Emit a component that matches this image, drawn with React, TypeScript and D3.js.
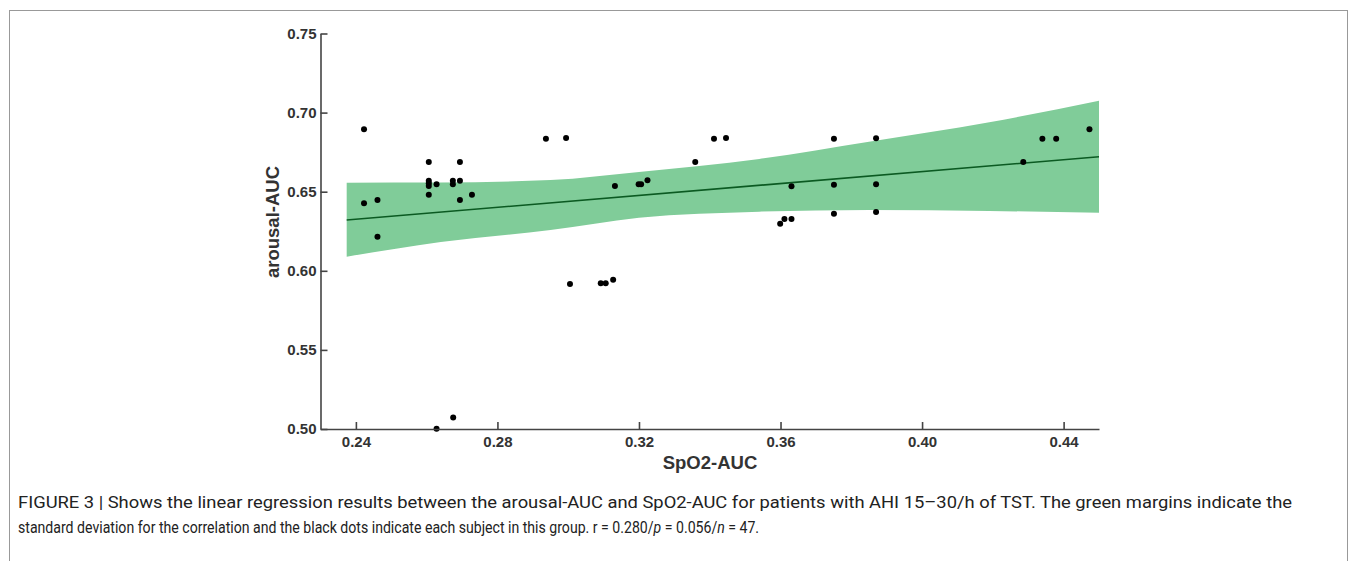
import React, { useEffect, useRef } from "react";
import * as d3 from "d3";

// subjects (SpO2-AUC, arousal-AUC)
const spo2Auc = [
  0.2423, 0.2423, 0.2461, 0.2461, 0.2606, 0.2606, 0.2606, 0.2606, 0.2606, 0.2628,
  0.2674, 0.2674, 0.2694, 0.2694, 0.2694, 0.2728, 0.2937, 0.2994, 0.3005, 0.3092,
  0.3106, 0.3127, 0.3132, 0.3199, 0.3206, 0.3224, 0.3359, 0.3412, 0.3446, 0.3599,
  0.3611, 0.3631, 0.3631, 0.3751, 0.3751, 0.3751, 0.387, 0.387, 0.387, 0.4286,
  0.434, 0.4379, 0.4473, 0.2628, 0.2675,
];
const arousalAuc = [
  0.6895, 0.6427, 0.6448, 0.6216, 0.6688, 0.657, 0.6553, 0.6536, 0.648, 0.6547,
  0.657, 0.6547, 0.6688, 0.657, 0.6448, 0.648, 0.6835, 0.684, 0.5917, 0.5921,
  0.5921, 0.5944, 0.6536, 0.6547, 0.6547, 0.6572, 0.6688, 0.6835, 0.684, 0.6298,
  0.6328, 0.6328, 0.6534, 0.6835, 0.6544, 0.6361, 0.6838, 0.6547, 0.6372, 0.6688,
  0.6835, 0.6835, 0.6894, 0.5002, 0.5072,
];

// regression line end points
const fitX = [0.2374, 0.45];
const fitY = [0.6321, 0.6721];

// green margin edges
const bandX = [0.2374, 0.264, 0.295, 0.32, 0.354, 0.385, 0.419, 0.45];
const bandUpper = [0.6557, 0.6558, 0.6574, 0.6625, 0.6707, 0.6816, 0.6939, 0.7075];
const bandLower = [0.6089, 0.6182, 0.6258, 0.6336, 0.6374, 0.6385, 0.6378, 0.6367];

const xTicks = [0.24, 0.28, 0.32, 0.36, 0.4, 0.44];
const yTicks = [0.5, 0.55, 0.6, 0.65, 0.7, 0.75];

const captionLine1 =
  "FIGURE 3 | Shows the linear regression results between the arousal-AUC and SpO2-AUC for patients with AHI 15\u201330/h of TST. The green margins indicate the";
const captionLine2 =
  "standard deviation for the correlation and the black dots indicate each subject in this group. r = 0.280/";

const W = 1356;
const H = 561;
const left = 320.5;
const right = 1099;
const top = 33.5;
const bottom = 429;
const font = "Arial, 'Liberation Sans', sans-serif";
const capScale = 0.83; // caption face is narrower than Roboto

export default function App() {
  const xAxisRef = useRef<SVGGElement>(null);
  const yAxisRef = useRef<SVGGElement>(null);

  const x = d3.scaleLinear().domain([0.23, 0.45]).range([left, right]);
  const y = d3.scaleLinear().domain([0.5, 0.75]).range([bottom, top]);

  const band = d3
    .area<number>()
    .x((d, i) => x(bandX[i]))
    .y0((d, i) => y(bandLower[i]))
    .y1((d, i) => y(bandUpper[i]))
    .curve(d3.curveMonotoneX);

  const fit = d3
    .line<number>()
    .x((d) => x(d))
    .y((d, i) => y(fitY[i]));

  useEffect(() => {
    const xa = d3
      .axisBottom(x)
      .tickValues(xTicks)
      .tickFormat(d3.format(".2f"))
      .tickSizeInner(-7)
      .tickSizeOuter(0)
      .tickPadding(7);
    const ya = d3
      .axisLeft(y)
      .tickValues(yTicks)
      .tickFormat(d3.format(".2f"))
      .tickSizeInner(-7)
      .tickSizeOuter(0)
      .tickPadding(4);
    const gx = d3.select(xAxisRef.current!);
    gx.call(xa);
    const gy = d3.select(yAxisRef.current!);
    gy.call(ya);
    [gx, gy].forEach((g) => {
      g.select(".domain").attr("stroke", "#444").attr("stroke-width", 1.6);
      g.selectAll(".tick line").attr("stroke", "#444").attr("stroke-width", 1.6);
      g.selectAll(".tick text")
        .attr("fill", "#333")
        .attr("font-size", 15)
        .attr("font-weight", "bold")
        .attr("font-family", font);
    });
  }, []);

  return (
    <svg
      width={W}
      height={H}
      style={{ position: "absolute", left: 0, top: 0, background: "#fff" }}
    >
      <rect x={9.5} y={10.5} width={1338} height={600} fill="none" stroke="#999" strokeWidth={1} />

      <path d={band(bandX) || ""} fill="#80cc99" />
      <path d={fit(fitX) || ""} fill="none" stroke="#0b5a22" strokeWidth={1.6} />

      {spo2Auc.map((v, i) => (
        <circle key={i} cx={x(v)} cy={y(arousalAuc[i])} r={3} fill="#000" />
      ))}

      <g ref={xAxisRef} transform={`translate(0,${bottom})`} />
      <g ref={yAxisRef} transform={`translate(${left},0)`} />

      <text
        x={710}
        y={469}
        textAnchor="middle"
        fontFamily={font}
        fontWeight="bold"
        fontSize={18.5}
        fill="#333"
      >
        SpO2-AUC
      </text>
      <text
        transform="translate(279,222) rotate(-90)"
        textAnchor="middle"
        fontFamily={font}
        fontWeight="bold"
        fontSize={18.5}
        fill="#333"
      >
        arousal-AUC
      </text>

      <g
        transform={`translate(18,0) scale(${capScale},1)`}
        fontFamily="Roboto, 'Noto Sans', sans-serif"
        fontSize={17}
        fill="#222"
      >
        <text x={0} y={508} textLength={1274 / capScale} lengthAdjust="spacingAndGlyphs">
          {captionLine1}
        </text>
        <text x={0} y={533}>
          {captionLine2}
          <tspan fontStyle="italic">p</tspan>
          {" = 0.056/"}
          <tspan fontStyle="italic">n</tspan>
          {" = 47."}
        </text>
      </g>
    </svg>
  );
}
